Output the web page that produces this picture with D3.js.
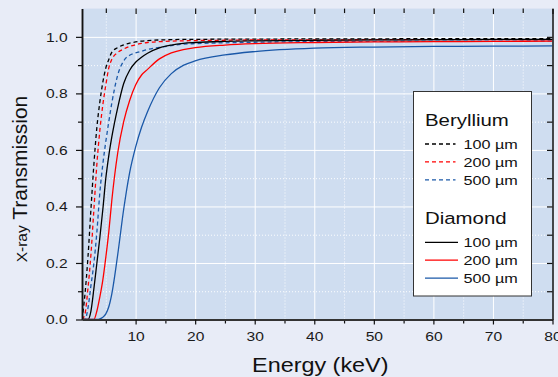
<!DOCTYPE html>
<html><head><meta charset="utf-8">
<script src="https://cdn.jsdelivr.net/npm/d3@7"></script>
<style>
html,body{margin:0;padding:0;background:#e8ecf7;}
svg{display:block;font-family:"Liberation Sans",Arial,Helvetica,sans-serif;}
</style></head><body>
<svg id="c" width="558" height="377"></svg>
<script>
// ---- data ----
const energies    = [1, 1.5, 2, 2.5, 3, 3.5, 4, 4.5, 5, 5.5, 6, 7, 8, 9, 10, 11, 12, 14, 16, 18, 20, 25, 30, 40, 50, 60, 70, 80];
const beryllium100 = [0, 0.09, 0.22, 0.39, 0.55, 0.68, 0.77, 0.84, 0.89, 0.92, 0.945, 0.962, 0.972, 0.978, 0.982, 0.985, 0.987, 0.989, 0.99, 0.991, 0.991, 0.992, 0.992, 0.993, 0.993, 0.994, 0.994, 0.994];
const beryllium200 = [0, 0.02, 0.11, 0.23, 0.39, 0.55, 0.67, 0.76, 0.83, 0.89, 0.92, 0.945, 0.957, 0.966, 0.972, 0.977, 0.98, 0.983, 0.985, 0.986, 0.987, 0.988, 0.989, 0.989, 0.99, 0.99, 0.99, 0.99];
const beryllium500 = [0, 0, 0.04, 0.12, 0.2, 0.31, 0.45, 0.55, 0.63, 0.70, 0.765, 0.865, 0.915, 0.935, 0.943, 0.949, 0.955, 0.963, 0.969, 0.974, 0.976, 0.979, 0.981, 0.983, 0.984, 0.985, 0.985, 0.986];
const diamond100   = [0, 0, 0, 0.03, 0.11, 0.2, 0.29, 0.39, 0.5, 0.58, 0.645, 0.75, 0.835, 0.882, 0.91, 0.928, 0.942, 0.961, 0.971, 0.977, 0.98, 0.984, 0.986, 0.988, 0.989, 0.99, 0.991, 0.991];
const diamond200   = [0, 0, 0, 0, 0, 0.03, 0.08, 0.14, 0.22, 0.31, 0.42, 0.59, 0.70, 0.775, 0.83, 0.865, 0.885, 0.922, 0.943, 0.955, 0.962, 0.971, 0.976, 0.98, 0.982, 0.983, 0.984, 0.985];
const diamond500   = [0, 0, 0, 0, 0, 0, 0.002, 0.008, 0.02, 0.045, 0.09, 0.23, 0.39, 0.52, 0.61, 0.68, 0.735, 0.82, 0.87, 0.899, 0.915, 0.936, 0.948, 0.96, 0.964, 0.966, 0.967, 0.968];

const xTickValues = [10, 20, 30, 40, 50, 60, 70, 80];
const xMinorValues = [5, 15, 25, 35, 45, 55, 65, 75];
const yTickValues = [0, 0.2, 0.4, 0.6, 0.8, 1.0];
const yMinorValues = [0.1, 0.3, 0.5, 0.7, 0.9];
const groupTitles = ["Beryllium", "Diamond"];
const thicknessLabels = ["100 µm", "200 µm", "500 µm"];
const xTitle = "Energy (keV)";

// ---- styles ----
const seriesColors = ["#000000", "#ff0000", "#1a58a8"];
const groups = [
  {title: groupTitles[0], dashed: true,  data: [beryllium100, beryllium200, beryllium500]},
  {title: groupTitles[1], dashed: false, data: [diamond100, diamond200, diamond500]}
];

const W = 558, H = 377;
const P = {l: 82, r: 552.5, t: 8.6, b: 319.5};
const SX = 1.2; // horizontal glyph stretch seen in the reference

const x = d3.scaleLinear().domain([1, 80]).range([P.l, P.r]);
const y = d3.scaleLinear().domain([0, 1.1]).range([P.b, P.t]);

const svg = d3.select("#c");
svg.append("rect").attr("width", W).attr("height", H).attr("fill", "#e8ecf7");
svg.append("rect").attr("x", P.l).attr("y", P.t).attr("width", P.r - P.l).attr("height", P.b - P.t).attr("fill", "#cfddf0");

// ---- grid ----
function grid(axis, tr, major) {
  const g = svg.append("g").attr("transform", tr).call(axis);
  g.select(".domain").remove();
  g.selectAll("line").attr("stroke", "#ffffff").attr("stroke-width", 1)
    .attr("stroke-dasharray", major ? null : "1,2").attr("opacity", major ? 1 : 0.95);
}
const ph = P.b - P.t, pw = P.r - P.l;
grid(d3.axisBottom(x).tickValues(xMinorValues).tickSize(-ph).tickFormat(""), `translate(0,${P.b})`, false);
grid(d3.axisLeft(y).tickValues(yMinorValues).tickSize(-pw).tickFormat(""), `translate(${P.l},0)`, false);
grid(d3.axisBottom(x).tickValues(xTickValues.filter(v => v < 80)).tickSize(-ph).tickFormat(""), `translate(0,${P.b})`, true);
grid(d3.axisLeft(y).tickValues(yTickValues.filter(v => v > 0)).tickSize(-pw).tickFormat(""), `translate(${P.l},0)`, true);

// ---- curves ----
svg.append("clipPath").attr("id", "clip").append("rect")
  .attr("x", P.l).attr("y", P.t - 2).attr("width", pw).attr("height", ph + 2);
const line = d3.line().x((d, i) => x(energies[i])).y(d => y(d)).curve(d3.curveMonotoneX);
const curves = svg.append("g").attr("clip-path", "url(#clip)");
groups.forEach(gr => {
  gr.data.forEach((vals, k) => {
    curves.append("path").attr("d", line(vals)).attr("fill", "none")
      .attr("stroke", seriesColors[k]).attr("stroke-width", 1.3)
      .attr("stroke-dasharray", gr.dashed ? "4,3" : null);
  });
});

// ---- axes ----
function styleAxis(g) {
  g.selectAll("line").attr("stroke", "#111").attr("stroke-width", 1.2);
  g.selectAll(".domain").attr("stroke", "#111").attr("stroke-width", 1.5);
}
// minor ticks
styleAxis(svg.append("g").attr("transform", `translate(${P.l},0)`)
  .call(d3.axisLeft(y).tickValues(yMinorValues).tickSize(4).tickSizeOuter(0).tickFormat("")));
styleAxis(svg.append("g").attr("transform", `translate(0,${P.b})`)
  .call(d3.axisBottom(x).tickValues(xMinorValues).tickSize(4).tickSizeOuter(0).tickFormat("")));
const topMinor = svg.append("g").attr("transform", `translate(0,${P.t})`)
  .call(d3.axisTop(x).tickValues(xMinorValues).tickSize(-4.5).tickFormat(""));
topMinor.select(".domain").remove(); styleAxis(topMinor);
const topMajor = svg.append("g").attr("transform", `translate(0,${P.t})`)
  .call(d3.axisTop(x).tickValues(xTickValues).tickSize(-5.5).tickFormat(""));
topMajor.select(".domain").remove(); styleAxis(topMajor);
styleAxis(svg.append("g").attr("transform", `translate(${P.r},0)`)
  .call(d3.axisRight(y).tickValues(yMinorValues.concat(yTickValues)).tickSize(-5.5).tickSizeOuter(0).tickFormat("")));

// major left
const yAx = svg.append("g").attr("transform", `translate(${P.l},0)`)
  .call(d3.axisLeft(y).tickValues(yTickValues).tickSize(6).tickSizeOuter(0).tickFormat(d3.format(".1f")));
styleAxis(yAx);
yAx.selectAll("text").attr("font-size", 13).attr("fill", "#1a1a1a")
  .attr("font-family", "Liberation Sans, Arial, sans-serif")
  .attr("x", -14.4 / SX).attr("transform", `scale(${SX},1)`);
// major bottom
const xAx = svg.append("g").attr("transform", `translate(0,${P.b})`)
  .call(d3.axisBottom(x).tickValues(xTickValues).tickSize(5).tickSizeOuter(0).tickFormat(d3.format("d")));
styleAxis(xAx);
xAx.select(".domain").attr("stroke", "#333").attr("stroke-width", 2);
xAx.selectAll("text").attr("font-size", 13).attr("fill", "#1a1a1a")
  .attr("font-family", "Liberation Sans, Arial, sans-serif")
  .attr("dy", 0).attr("y", 21.6).attr("transform", `scale(${SX},1)`)
  .attr("x", 0);

// ---- titles ----
function stext(px, py, txt, size, anchor) {
  return svg.append("text").attr("transform", `translate(${px},${py}) scale(${SX},1)`)
    .attr("font-size", size).attr("text-anchor", anchor).attr("fill", "#111").text(txt);
}
stext((P.l + P.r) / 2 + 3, 371.7, xTitle, 19.5, "middle");

const yt = svg.append("text").attr("transform", `translate(27,179) rotate(-90)`)
  .attr("text-anchor", "middle").attr("fill", "#111");
yt.append("tspan").attr("font-size", 15.5).text("X-ray");
yt.append("tspan").attr("font-size", 21).text(" Transmission");

// ---- legend ----
const L = {x: 413.5, y: 91.5, w: 118, h: 204.5};
svg.append("rect").attr("x", L.x).attr("y", L.y).attr("width", L.w).attr("height", L.h)
  .attr("fill", "#ffffff").attr("stroke", "#333").attr("stroke-width", 1);
const groupTop = [125.7, 224];
groups.forEach((gr, gi) => {
  stext(L.x + 11.5, groupTop[gi], gr.title, 17, "start");
  thicknessLabels.forEach((lab, k) => {
    const ly = groupTop[gi] + 18.3 + k * 17.9;
    svg.append("line").attr("x1", L.x + 11.5).attr("x2", gr.dashed ? L.x + 42 : L.x + 44.5)
      .attr("y1", ly).attr("y2", ly).attr("stroke", seriesColors[k]).attr("stroke-width", 1.3)
      .attr("stroke-dasharray", gr.dashed ? "4,3" : null);
    stext(L.x + 50, ly + 5, lab, 13.5, "start");
  });
});
</script>
</body></html>
